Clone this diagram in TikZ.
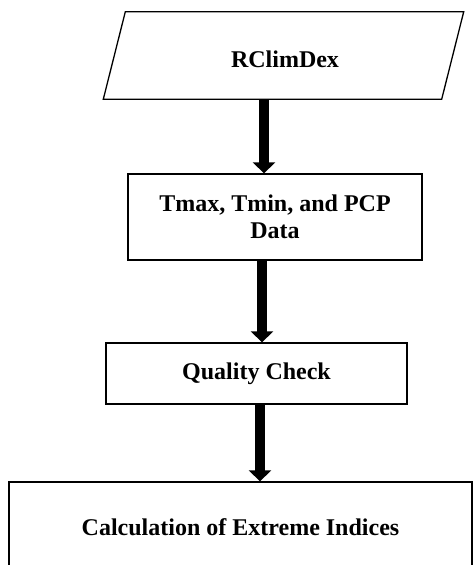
\documentclass[tikz,border=0pt]{standalone}
\usepackage{fontspec}
\setmainfont{Liberation Serif}
\usetikzlibrary{arrows.meta,calc}
\begin{document}
\begin{tikzpicture}[x=1pt,y=-1pt,
  boxnode/.style={draw=black, line width=1.3pt, rectangle, inner sep=0pt, align=center,
    font=\fontsize{24}{27}\selectfont\bfseries},
  plainnode/.style={inner sep=0pt, align=center, font=\fontsize{24}{27}\selectfont\bfseries},
  bigarrow/.style={line width=10pt, -{Triangle[width=22pt,length=11pt]}, shorten >=0pt}]
\clip (0,0) rectangle (474,565);
\useasboundingbox (0,0) rectangle (474,565);
% parallelogram
\node[inner sep=0pt, minimum width=360pt, minimum height=87pt] (p) at (283.5,55.5) {};
\draw[line width=1.3pt] ($(p.north west)+(22,0)$) -- (p.north east) -- ($(p.south east)+(-22,0)$) -- (p.south west) -- cycle;
\node[plainnode] (pt) at (285,59.5) {RClimDex};
\node[boxnode, minimum width=294pt, minimum height=86pt] (b2) at (275,217) {Tmax, Tmin, and PCP\\Data};
\node[boxnode, minimum width=301pt, minimum height=61pt] (b3) at (256.5,373.5) {Quality Check};
\node[boxnode, minimum width=463pt, minimum height=90pt] (b4) at (240.5,527) {Calculation of Extreme Indices};
\coordinate (x1) at (264,0);
\coordinate (x2) at (262,0);
\coordinate (x3) at (260,0);
\draw[bigarrow] (x1 |- p.south) -- (x1 |- b2.north);
\draw[bigarrow] (x2 |- b2.south) -- (x2 |- b3.north);
\draw[bigarrow] (x3 |- b3.south) -- (x3 |- b4.north);
\end{tikzpicture}
\end{document}
